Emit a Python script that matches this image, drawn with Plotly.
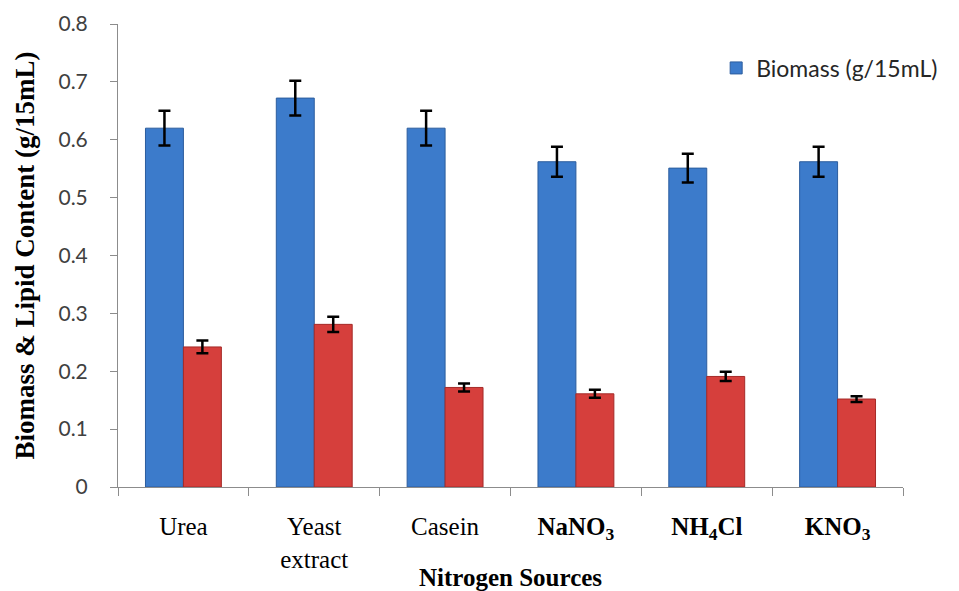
import plotly.graph_objects as go

categories = ["Urea", "Yeast<br>extract", "Casein",
              "<b>NaNO<sub>3</sub></b>", "<b>NH<sub>4</sub>Cl</b>", "<b>KNO<sub>3</sub></b>"]
biomass = [0.62, 0.672, 0.62, 0.562, 0.551, 0.562]
biomass_err = [0.03, 0.03, 0.03, 0.026, 0.025, 0.026]
lipid = [0.242, 0.281, 0.172, 0.161, 0.191, 0.152]
lipid_err = [0.011, 0.013, 0.007, 0.007, 0.008, 0.005]

fig = go.Figure()
fig.add_trace(go.Bar(
    x=categories, y=biomass, name="Biomass (g/15mL)",
    marker=dict(color="#3C7BCB", line=dict(color="#2C5D9E", width=1)),
    error_y=dict(type="data", array=biomass_err, color="black", thickness=2.5, width=6),
    showlegend=True,
))
fig.add_trace(go.Bar(
    x=categories, y=lipid, name="Lipid (g/15mL)",
    marker=dict(color="#D63F3C", line=dict(color="#A52A28", width=1)),
    error_y=dict(type="data", array=lipid_err, color="black", thickness=2.5, width=6),
    showlegend=False,
))

fig.update_layout(
    width=959, height=591,
    margin=dict(l=118, r=56, t=24, b=104),
    plot_bgcolor="white", paper_bgcolor="white",
    barmode="group", bargap=0.42, bargroupgap=0,
    legend=dict(x=0.762, y=0.905, xanchor="left", yanchor="middle",
                font=dict(family="Lato", size=23, color="#262626"),
                itemwidth=30,
                bgcolor="rgba(0,0,0,0)"),
    xaxis=dict(
        automargin=False,
        showline=True, linecolor="#8C8C8C", linewidth=1,
        ticks="outside", tickson="boundaries", ticklen=8, tickcolor="#8C8C8C",
        tickfont=dict(family="Liberation Serif", size=25, color="black"),
        ticklabelstandoff=17,
        title=dict(text="<b>Nitrogen Sources</b>",
                   font=dict(family="Liberation Serif", size=25, color="black"),
                   standoff=0),
    ),
    yaxis=dict(
        automargin=False,
        range=[0, 0.8], dtick=0.1, tickformat="~g",
        showline=True, linecolor="#8C8C8C", linewidth=1,
        ticks="outside", ticklen=7, tickcolor="#8C8C8C",
        showgrid=False, zeroline=False,
        tickfont=dict(family="Lato", size=21, color="#404040"),
        ticklabelstandoff=18,
        title=dict(text="<b>Biomass &amp; Lipid Content (g/15mL)</b>",
                   font=dict(family="Liberation Serif", size=27, color="black"),
                   standoff=16),
    ),
)

fig.write_html("out.html", config={"displayModeBar": False},
               post_script="document.body.style.margin='0';")
